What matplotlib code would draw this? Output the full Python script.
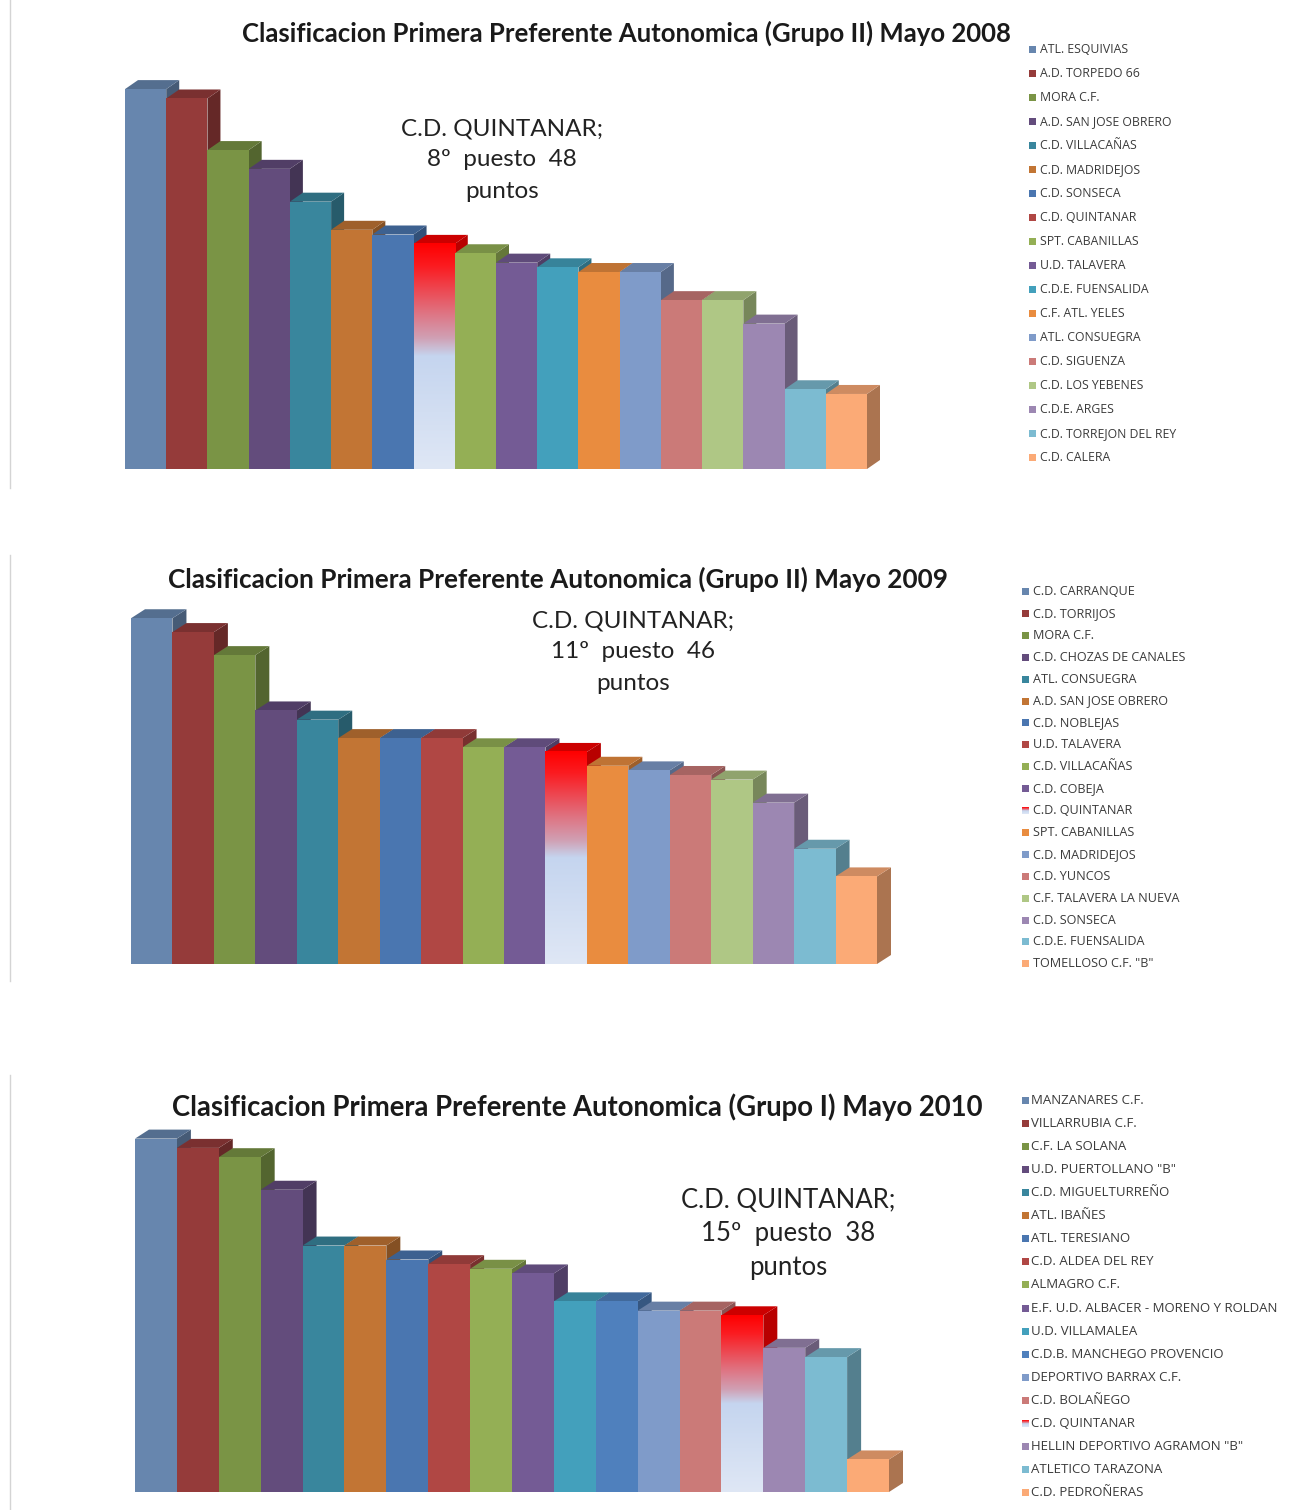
import numpy as np
import matplotlib
matplotlib.use("Agg")
import matplotlib.pyplot as plt
from matplotlib.colors import LinearSegmentedColormap, to_rgb
from matplotlib.patches import Polygon, Rectangle

# -----------------------------
# Data
# -----------------------------
teams_2008 = ["ATL. ESQUIVIAS", "A.D. TORPEDO 66", "MORA C.F.", "A.D. SAN JOSE OBRERO",
              "C.D. VILLACAÑAS", "C.D. MADRIDEJOS", "C.D. SONSECA", "C.D. QUINTANAR",
              "SPT. CABANILLAS", "U.D. TALAVERA", "C.D.E. FUENSALIDA", "C.F. ATL. YELES",
              "ATL. CONSUEGRA", "C.D. SIGUENZA", "C.D. LOS YEBENES", "C.D.E. ARGES",
              "C.D. TORREJON DEL REY", "C.D. CALERA"]
points_2008 = [81, 79, 68, 64, 57, 51, 50, 48, 46, 44, 43, 42, 42, 36, 36, 31, 17, 16]

teams_2009 = ["C.D. CARRANQUE", "C.D. TORRIJOS", "MORA C.F.", "C.D. CHOZAS DE CANALES",
              "ATL. CONSUEGRA", "A.D. SAN JOSE OBRERO", "C.D. NOBLEJAS", "U.D. TALAVERA",
              "C.D. VILLACAÑAS", "C.D. COBEJA", "C.D. QUINTANAR", "SPT. CABANILLAS",
              "C.D. MADRIDEJOS", "C.D. YUNCOS", "C.F. TALAVERA LA NUEVA", "C.D. SONSECA",
              "C.D.E. FUENSALIDA", 'TOMELLOSO C.F. "B"']
points_2009 = [75, 72, 67, 55, 53, 49, 49, 49, 47, 47, 46, 43, 42, 41, 40, 35, 25, 19]

teams_2010 = ["MANZANARES C.F.", "VILLARRUBIA C.F.", "C.F. LA SOLANA", 'U.D. PUERTOLLANO "B"',
              "C.D. MIGUELTURREÑO", "ATL. IBAÑES", "ATL. TERESIANO", "C.D. ALDEA DEL REY",
              "ALMAGRO C.F.", "E.F. U.D. ALBACER - MORENO Y ROLDAN", "U.D. VILLAMALEA",
              "C.D.B. MANCHEGO PROVENCIO", "DEPORTIVO BARRAX C.F.", "C.D. BOLAÑEGO",
              "C.D. QUINTANAR", 'HELLIN DEPORTIVO AGRAMON "B"', "ATLETICO TARAZONA",
              "C.D. PEDROÑERAS"]
points_2010 = [76, 74, 72, 65, 53, 53, 50, 49, 48, 47, 41, 41, 39, 39, 38, 31, 29, 7]

colors = ["#6786ae", "#953b3a", "#7a9445", "#634c7c", "#39869d", "#c27534",
          "#4a76b0", "#b04744", "#94af55", "#745b95", "#43a0bc", "#e98c3f",
          "#7f9bc9", "#cb7a78", "#afc785", "#9c87b2", "#7cbbd1", "#fbaa76"]
colors_2010 = colors[:11] + ["#4f80bd"] + colors[12:]

W, H = 1289, 1510
grad = LinearSegmentedColormap.from_list(
    "quintanar", [(0, "#ff0000"), (0.10, "#fb1b20"), (0.30, "#e0707e"), (0.42, "#d0a0b4"),
                  (0.50, "#c5d5ef"), (1, "#dfe7f5")])
ramp = np.linspace(0, 1, 256).reshape(-1, 1)


def shade(c, f):
    return tuple(v * f for v in to_rgb(c))


def draw_panel(fig, over, teams, points, bar_colors, quintanar, left, right, base, scale,
               dx, dy, title, title_xy, title_size, note, note_xy, note_gap, note_size,
               leg_x, leg_top, leg_gap, leg_grad, leg_size, leg_pad):
    # axes in pixels so the bars go through a real y scale
    n = len(points)
    bw = (right - left) / n
    ax_w = right - left + 2 * dx
    top_px = base - scale * 90
    ax = fig.add_axes([left / W, 1 - base / H, ax_w / W, (base - top_px) / H])
    ax.set_xlim(0, ax_w / bw)
    ax.set_ylim(0, 90)
    ax.axis("off")
    ddx, ddy = dx / bw, dy / scale
    for i, (v, c) in enumerate(zip(points, bar_colors)):
        top_c, side_c = shade(c, 0.82), shade(c, 0.68)
        if i == quintanar:
            top_c, side_c = "#cc0000", "#b80000"
        ax.add_patch(Polygon([(i + 1, 0), (i + 1 + ddx, ddy), (i + 1 + ddx, v + ddy), (i + 1, v)],
                             fc=side_c, lw=0))
        ax.add_patch(Polygon([(i, v), (i + ddx, v + ddy), (i + 1 + ddx, v + ddy), (i + 1, v)],
                             fc=top_c, lw=0))
        if i == quintanar:
            ax.imshow(ramp, cmap=grad, aspect="auto", extent=(i, i + 1, 0, v), zorder=2)
        else:
            ax.bar(i + 0.5, v, width=1.0, color=c, linewidth=0, zorder=2)
    ax.set_xlim(0, ax_w / bw)
    ax.set_ylim(0, 90)

    over.text(title_xy[0], title_xy[1], title, fontsize=title_size, fontweight="bold",
              family="Lato", ha="center", va="center", color="#1a1a1a")
    for j, line in enumerate(note):
        over.text(note_xy[0], note_xy[1] + j * note_gap, line, fontsize=note_size,
                  family="Lato", ha="center", va="center", color="#222222")

    for j, (t, c) in enumerate(zip(teams, bar_colors)):
        y = leg_top + j * leg_gap
        if j == quintanar and leg_grad:
            over.imshow(ramp, cmap=grad, aspect="auto",
                        extent=(leg_x, leg_x + 7, y + 3.5, y - 3.5), zorder=3)
        else:
            over.add_patch(Rectangle((leg_x, y - 3.5), 7, 7, fc=c, lw=0))
        over.text(leg_x + leg_pad, y, t, fontsize=leg_size, family="Open Sans",
                  ha="left", va="center", color="#3a3a3a")


# -----------------------------
# Plot
# -----------------------------
fig = plt.figure(figsize=(W / 100, H / 100), dpi=100)
over = fig.add_axes([0, 0, 1, 1], zorder=5)
over.patch.set_alpha(0)
over.axis("off")

# thin page rules on the left
for y0, y1 in [(0, 488), (555, 981), (1075, 1510)]:
    over.plot([9.5, 9.5], [y0, y1], color="#d4d4d4", lw=1)

draw_panel(fig, over, teams_2008, points_2008, colors, 7, 125, 867, 469, 4.69, 13, 9,
           "Clasificacion Primera Preferente Autonomica (Grupo II) Mayo 2008", (626, 33), 18.5,
           ["C.D. QUINTANAR;", "8º  puesto  48", "puntos"], (502, 129), 31, 17.5,
           1029, 49.5, 24.0, False, 8.8, 11)
draw_panel(fig, over, teams_2009, points_2009, colors, 10, 131, 877, 964, 4.61, 14, 9,
           "Clasificacion Primera Preferente Autonomica (Grupo II) Mayo 2009", (558, 579), 18.85,
           ["C.D. QUINTANAR;", "11º  puesto  46", "puntos"], (633, 621), 31, 17.5,
           1022, 591.5, 21.9, True, 9.1, 11)
draw_panel(fig, over, teams_2010, points_2010, colors_2010, 14, 135, 889, 1492, 4.65, 14, 9,
           "Clasificacion Primera Preferente Autonomica (Grupo I) Mayo 2010", (577, 1107), 19.8,
           ["C.D. QUINTANAR;", "15º  puesto  38", "puntos"], (788, 1201), 33, 18.5,
           1022, 1100.5, 23.06, True, 9.5, 9)

over.set_xlim(0, W)
over.set_ylim(H, 0)

fig.savefig("out.png", dpi=100)
